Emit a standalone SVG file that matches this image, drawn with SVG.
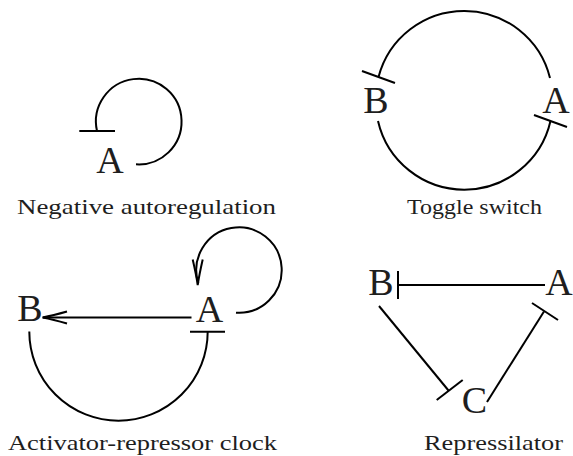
<svg xmlns="http://www.w3.org/2000/svg" width="573" height="456" viewBox="0 0 573 456">
  <style>
    .lbl { font-size: 38px; fill: #1e1e1e; }
    .cpt { font-size: 21px; fill: #1e1e1e; }
    .edge { fill: none; stroke: #000; stroke-width: 2; }
  </style>
  <rect width="573" height="456" fill="#fff"/>
  <g id="p1-A"><text class="lbl" font-family="Liberation Serif" x="96.3" y="173">A</text></g>
  <g id="p2-B"><text class="lbl" font-family="Liberation Serif" x="363.3" y="113">B</text></g>
  <g id="p2-A"><text class="lbl" font-family="Liberation Serif" x="542.3" y="113">A</text></g>
  <g id="p3-B"><text class="lbl" font-family="Liberation Serif" x="17.3" y="321">B</text></g>
  <g id="p3-A"><text class="lbl" font-family="Liberation Serif" x="195.8" y="321.5">A</text></g>
  <g id="p4-B"><text class="lbl" font-family="Liberation Serif" x="368.3" y="295">B</text></g>
  <g id="p4-A"><text class="lbl" font-family="Liberation Serif" x="545.3" y="295">A</text></g>
  <g id="p4-C"><text class="lbl" font-family="Liberation Serif" x="461.8" y="413">C</text></g>
  <g id="captions">
    <text class="cpt" font-family="Liberation Serif" x="17" y="214" textLength="259" lengthAdjust="spacingAndGlyphs">Negative autoregulation</text>
    <text class="cpt" font-family="Liberation Serif" x="407" y="214" textLength="135" lengthAdjust="spacingAndGlyphs">Toggle switch</text>
    <text class="cpt" font-family="Liberation Serif" x="8" y="450" textLength="269" lengthAdjust="spacingAndGlyphs">Activator-repressor clock</text>
    <text class="cpt" font-family="Liberation Serif" x="424" y="450" textLength="139" lengthAdjust="spacingAndGlyphs">Repressilator</text>
  </g>
  <g id="connectors">
    <path class="edge" d="M136,164.3 A42.8,42.8 0 1 0 97,131"/>
    <line class="edge" x1="79.3" y1="131" x2="115" y2="131"/>
    <path class="edge" d="M550,78 A88.5,88.5 0 0 0 378.5,77"/>
    <line class="edge" x1="362" y1="71" x2="395" y2="83"/>
    <path class="edge" d="M378,121 A88.5,88.5 0 0 0 550.5,121"/>
    <line class="edge" x1="534" y1="115" x2="567" y2="127"/>
    <line class="edge" x1="191.5" y1="317.5" x2="43" y2="317.5"/>
    <path class="edge" d="M67,311.5 Q53,315.5 42.5,317.5 Q53,319.5 67,323.5"/>
    <path class="edge" d="M29.3,331.5 A89.2,89.2 0 0 0 207.7,331.5"/>
    <line class="edge" x1="190" y1="331.7" x2="225" y2="331.7"/>
    <path class="edge" d="M236,312.7 A42.7,42.7 0 1 0 198.3,283"/>
    <path class="edge" d="M192.7,259.5 Q196.3,275 197.7,285 Q199.2,275 202.7,259.5"/>
    <line class="edge" x1="545" y1="285" x2="398" y2="285"/>
    <line class="edge" x1="398" y1="271" x2="398" y2="299"/>
    <line class="edge" x1="379" y1="306" x2="448.5" y2="390.5"/>
    <line class="edge" x1="436.7" y1="400" x2="462.7" y2="380"/>
    <line class="edge" x1="487" y1="402" x2="544" y2="311.5"/>
    <line class="edge" x1="532" y1="303" x2="558" y2="320"/>
  </g>
</svg>
